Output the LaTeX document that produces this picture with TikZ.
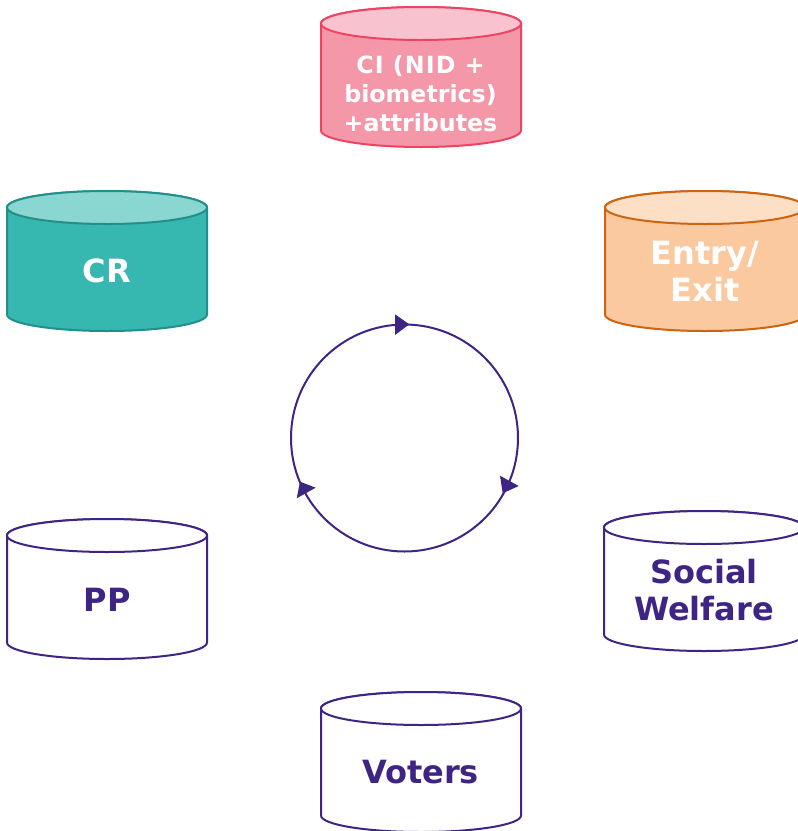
\documentclass[tikz,border=0pt]{standalone}
\usepackage{fontspec}
\setmainfont{DejaVu Sans}
\definecolor{ink}{HTML}{3F2583}
\definecolor{pinkS}{HTML}{EE4462}\definecolor{pinkB}{HTML}{F497A8}\definecolor{pinkT}{HTML}{F8C3CF}
\definecolor{tealS}{HTML}{238F8A}\definecolor{tealB}{HTML}{36B7B0}\definecolor{tealT}{HTML}{8AD6D1}
\definecolor{oranS}{HTML}{CC6410}\definecolor{oranB}{HTML}{FAC9A0}\definecolor{oranT}{HTML}{FDDFC6}
\tikzset{
  lightlabel/.style={font=\bfseries\fontsize{32}{37}\selectfont,text=white,align=center,inner sep=0pt},
  smalllabel/.style={font=\bfseries\fontsize{23.7}{29}\selectfont,text=white,align=center,inner sep=0pt},
  darklabel/.style={font=\bfseries\fontsize{32}{37}\selectfont,text=ink,align=center,inner sep=0pt},
  loopline/.style={draw=ink,line width=2pt},
  looptip/.style={fill=ink,draw=none}
}
% x-left, y-top, body colour, top colour, stroke colour
\newcommand{\drum}[5]{%
  \begin{scope}[shift={(#1,-#2)}]
    \path[fill=#3,draw=#5,line width=2pt] (0,-16.5) -- (0,-123.5) arc[start angle=180,end angle=360,x radius=100,y radius=16.5] -- (200,-16.5) arc[start angle=0,end angle=180,x radius=100,y radius=16.5] -- cycle;
    \path[fill=#4,draw=#5,line width=2pt] (100,-16.5) ellipse[x radius=100,y radius=16.5];
  \end{scope}}
\begin{document}
\begin{tikzpicture}[x=1pt,y=1pt]
\useasboundingbox (0,0) rectangle (798,-831);
\clip (0,0) rectangle (798,-831);
\drum{321}{7}{pinkB}{pinkT}{pinkS}
\drum{7}{191}{tealB}{tealT}{tealS}
\drum{605}{191}{oranB}{oranT}{oranS}
\drum{7}{519}{white}{white}{ink}
\drum{604}{511}{white}{white}{ink}
\drum{321}{692}{white}{white}{ink}
\node[smalllabel] (ci) at (420.5,-94) {{\addfontfeature{LetterSpace=4.7}CI (NID +}\\biometrics)\\+attributes};
\node[lightlabel] (cr) at (107,-271) {CR};
\node[lightlabel] (ee) at (705,-271) {Entry/\\Exit};
\node[darklabel] (pp) at (107,-600) {PP};
\node[darklabel] (sw) at (704,-590) {Social\\Welfare};
\node[darklabel] (vo) at (420.5,-772) {Voters};
\coordinate (hub) at (404.5,-438);
\draw[loopline] (hub) circle[radius=113.5];
\fill[looptip] (395,-314.3) -- (409.3,-324.3) -- (395,-335) -- cycle;
\fill[looptip] (500,-475.7) -- (518.7,-486) -- (502.7,-493.3) -- cycle;
\fill[looptip] (300,-481.7) -- (315.7,-487.7) -- (296.7,-498.3) -- cycle;
\end{tikzpicture}
\end{document}
